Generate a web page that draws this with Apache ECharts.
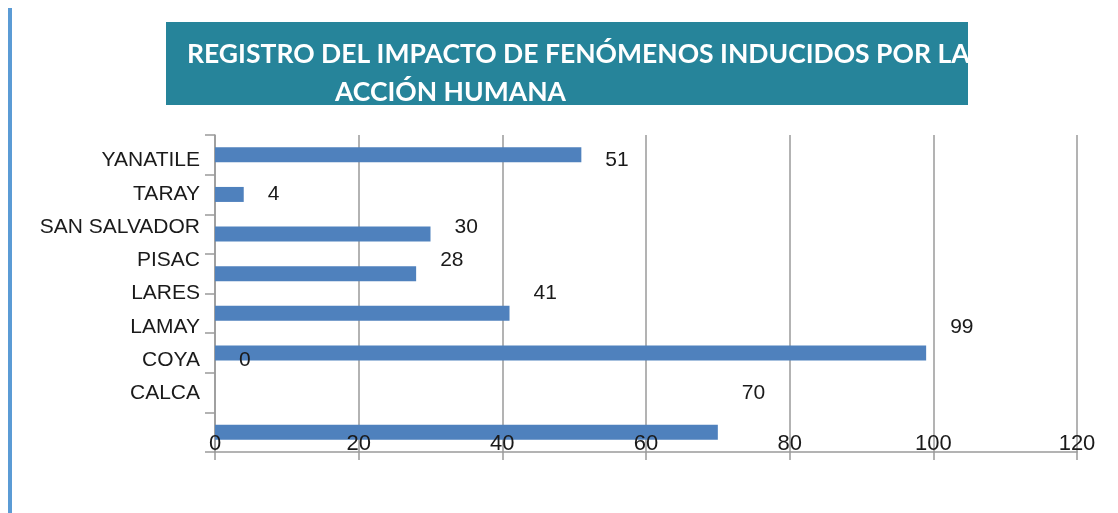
<!DOCTYPE html>
<html>
<head>
<meta charset="utf-8">
<script src="https://cdn.jsdelivr.net/npm/echarts@6/dist/echarts.min.js"></script>
<style>
  html, body { margin: 0; padding: 0; background: #fff; }
  #chart { width: 1118px; height: 513px; }
</style>
</head>
<body>
<div id="chart"></div>
<script>
  // datos
  var distritos = ['YANATILE', 'TARAY', 'SAN SALVADOR', 'PISAC', 'LARES', 'LAMAY', 'COYA', 'CALCA'];
  var impactos = [51, 4, 30, 28, 41, 99, 0, 70];
  var ejeX = { min: 0, max: 120, interval: 20 };
  var titulo1 = 'REGISTRO DEL IMPACTO DE FENÓMENOS INDUCIDOS POR LA';
  var titulo2 = 'ACCIÓN HUMANA';

  var textFont = '"Liberation Sans", Arial, sans-serif';
  var tituloFont = 'bold 26.5px Lato, "Open Sans", sans-serif';
  var gris = '#9a9a9a';

  var chart = echarts.init(document.getElementById('chart'));

  var option = {
    animation: false,
    grid: [
      // barras
      { left: 215, top: 135, width: 862, height: 317 },
      // rotulos de categoria y valores (desplazados como en el original)
      { left: 215, top: 144, width: 862, height: 266 },
      // numeros del eje x, encima de las barras
      { left: 215, top: 135, width: 862, height: 317, z: 10 }
    ],
    xAxis: [
      {
        gridIndex: 0,
        type: 'value',
        min: ejeX.min,
        max: ejeX.max,
        interval: ejeX.interval,
        axisLine: { show: true, lineStyle: { color: gris, width: 1.5 } },
        axisTick: { show: true, length: 8, lineStyle: { color: gris, width: 1.5 } },
        axisLabel: { show: false },
        splitLine: { show: true, lineStyle: { color: gris, width: 1.5 } }
      },
      {
        gridIndex: 1,
        type: 'value',
        min: ejeX.min,
        max: ejeX.max,
        show: false
      },
      {
        gridIndex: 2,
        type: 'value',
        min: ejeX.min,
        max: ejeX.max,
        interval: ejeX.interval,
        z: 10,
        axisLine: { show: false },
        axisTick: { show: false },
        splitLine: { show: false },
        axisLabel: {
          inside: true,
          margin: -3,
          color: '#1a1a1a',
          fontSize: 22,
          fontFamily: textFont
        }
      }
    ],
    yAxis: [
      {
        gridIndex: 0,
        type: 'category',
        inverse: true,
        data: distritos,
        axisLine: { show: true, lineStyle: { color: gris, width: 1.5 } },
        axisTick: { show: true, length: 10, lineStyle: { color: gris, width: 1.5 } },
        axisLabel: { show: false },
        splitLine: { show: false }
      },
      {
        gridIndex: 1,
        type: 'category',
        inverse: true,
        data: distritos,
        axisLine: { show: false },
        axisTick: { show: false },
        axisLabel: {
          margin: 15,
          color: '#1a1a1a',
          fontSize: 21,
          fontFamily: textFont
        }
      },
      {
        gridIndex: 2,
        type: 'value',
        show: false
      }
    ],
    series: [
      {
        type: 'bar',
        xAxisIndex: 0,
        yAxisIndex: 0,
        data: impactos,
        barWidth: 15,
        itemStyle: { color: '#4f81bd' },
        silent: true
      },
      {
        type: 'bar',
        xAxisIndex: 1,
        yAxisIndex: 1,
        data: impactos,
        barWidth: 1,
        itemStyle: { color: 'rgba(0,0,0,0)' },
        label: {
          show: true,
          position: 'right',
          distance: 24,
          color: '#1a1a1a',
          fontSize: 21,
          fontFamily: textFont
        },
        silent: true
      }
    ],
    graphic: [
      {
        type: 'rect',
        shape: { x: 8, y: 8, width: 4, height: 505 },
        style: { fill: '#5b9bd5' }
      },
      {
        type: 'rect',
        shape: { x: 166, y: 22, width: 802, height: 83 },
        style: { fill: '#26849a' }
      },
      {
        type: 'text',
        x: 187,
        y: 54,
        style: {
          text: titulo1,
          fill: '#ffffff',
          font: tituloFont,
          verticalAlign: 'middle'
        }
      },
      {
        type: 'text',
        x: 335,
        y: 92,
        style: {
          text: titulo2,
          fill: '#ffffff',
          font: tituloFont,
          verticalAlign: 'middle'
        }
      },
      {
        // recorta el titulo en el borde derecho de la caja
        type: 'rect',
        shape: { x: 968, y: 20, width: 150, height: 90 },
        style: { fill: '#ffffff' },
        z: 200
      }
    ]
  };

  chart.setOption(option);
</script>
</body>
</html>
